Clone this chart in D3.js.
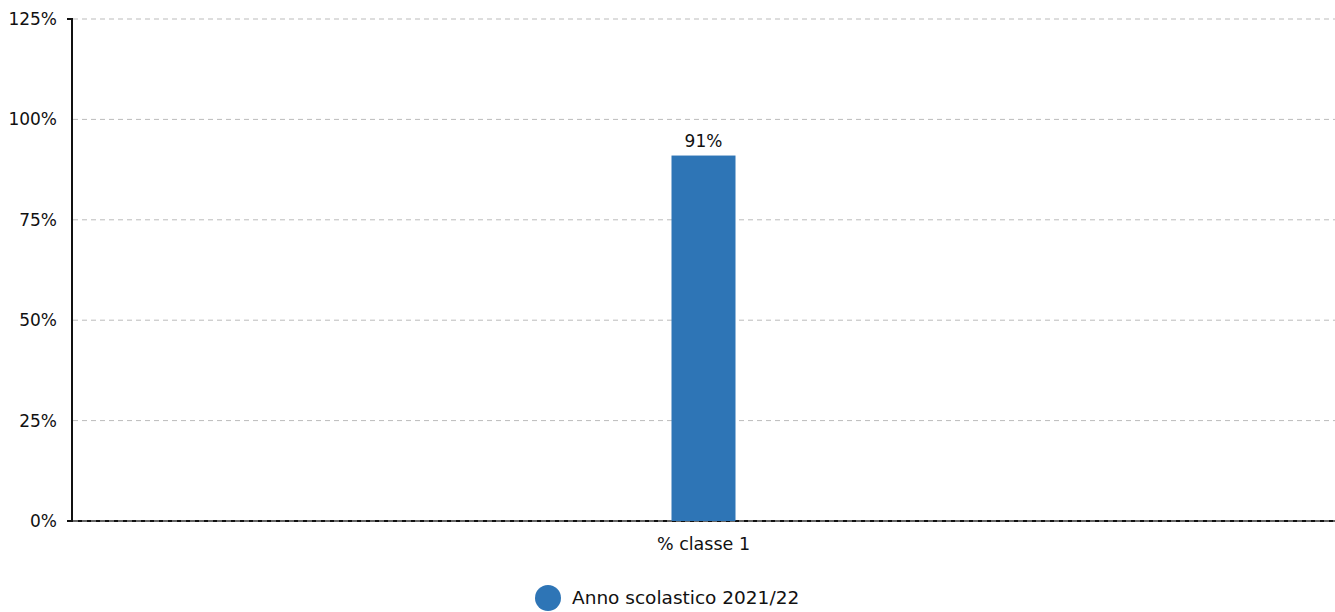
<!DOCTYPE html>
<html><head><meta charset="utf-8">
<script src="https://cdn.jsdelivr.net/npm/d3@7"></script>
<style>body{margin:0;background:#fff;}text{font-family:"DejaVu Sans",Verdana,sans-serif;}</style>
</head><body>
<svg id="c" width="1335" height="612"></svg>
<script>
const categories = ["% classe 1"];
const seriesName = "Anno scolastico 2021/22";
const values = [91];
const yTicks = [0, 25, 50, 75, 100, 125];
const color = "#2e75b6";

const svg = d3.select("#c");
const m = {l:72, r:0, t:19, b:91};
const W = 1335, H = 612;
const x = d3.scaleBand().domain(categories).range([m.l, W - m.r]).paddingInner(0).paddingOuter(0);
const y = d3.scaleLinear().domain([0,125]).range([H - m.b, m.t]);
const barW = 64;

// axes
svg.append("line").attr("x1", m.l).attr("x2", W).attr("y1", y(0)).attr("y2", y(0)).attr("stroke","#111").attr("stroke-width",2);
svg.append("line").attr("x1", m.l).attr("x2", m.l).attr("y1", y(125)-1).attr("y2", y(0)+1).attr("stroke","#111").attr("stroke-width",2);
yTicks.forEach(t=>{ if(t===0||t===125) svg.append("line").attr("x1",m.l-5).attr("x2",m.l).attr("y1",y(t)).attr("y2",y(t)).attr("stroke","#111").attr("stroke-width",2);});

// grid
svg.append("g").selectAll("line").data(yTicks).join("line")
  .attr("x1", m.l+1).attr("x2", W).attr("y1", d=>y(d)).attr("y2", d=>y(d))
  .attr("stroke","#bbb").attr("stroke-width",1).attr("stroke-dasharray","5,4");

// y labels
svg.append("g").selectAll("text").data(yTicks).join("text")
  .attr("x", m.l-15).attr("y", d=>y(d)).attr("dy","0.35em").attr("text-anchor","end")
  .attr("font-size",17).attr("fill","#111").text(d=>d+"%");

// bars
svg.append("g").selectAll("rect").data(values).join("rect")
  .attr("x",(d,i)=>x(categories[i])+x.bandwidth()/2-barW/2).attr("width",barW)
  .attr("y",d=>y(d)).attr("height",d=>y(0)-y(d)).attr("fill",color);
svg.append("g").selectAll("text").data(values).join("text")
  .attr("x",(d,i)=>x(categories[i])+x.bandwidth()/2).attr("y",d=>y(d)-9)
  .attr("text-anchor","middle").attr("font-size",17).attr("fill","#111").text(d=>d+"%");

// x labels
svg.append("g").selectAll("text").data(categories).join("text")
  .attr("x",d=>x(d)+x.bandwidth()/2).attr("y",y(0)+29).attr("text-anchor","middle")
  .attr("font-size",17.5).attr("fill","#111").text(d=>d);

// legend
svg.append("circle").attr("cx",548).attr("cy",598).attr("r",13).attr("fill",color);
svg.append("text").attr("x",572).attr("y",598).attr("dy","0.35em").attr("font-size",18.5).attr("fill","#111").text(seriesName);
</script>
</body></html>
